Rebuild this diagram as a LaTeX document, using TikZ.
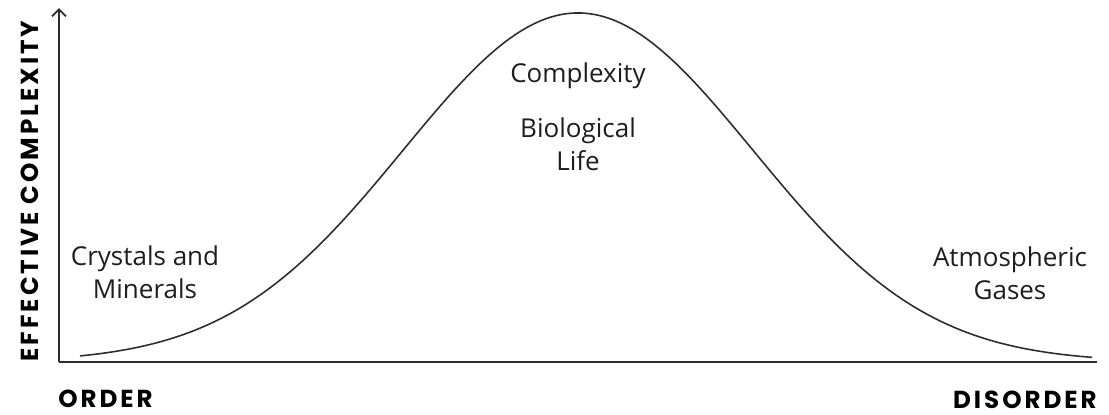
\documentclass[tikz,border=0pt]{standalone}
\usepackage{fontspec}
\setmainfont{Open Sans}
\newfontfamily\axisfont{Poppins}[LetterSpace=12]
\usetikzlibrary{arrows.meta,positioning}
\definecolor{InkGray}{RGB}{30,30,30}
\definecolor{LineGray}{RGB}{45,45,45}
\tikzset{
  axisline/.style={line width=1.1pt,LineGray},
  curveline/.style={line width=0.9pt,LineGray},
  regionlabel/.style={align=center,InkGray,font=\fontsize{14.8}{18.7}\selectfont},
  axislabel/.style={inner sep=0pt,black,font=\axisfont\bfseries\fontsize{14}{16}\selectfont}
}
\begin{document}
\begin{tikzpicture}[x=0.02cm,y=0.02cm,>={Straight Barb[length=4pt,width=8pt]}]
      \useasboundingbox (0,0) rectangle (1109,414);
      \coordinate (origin) at (59,52);
      \coordinate (ytop) at (59,406);
      \coordinate (xend) at (1097,52);
      \draw[axisline,->] (origin)--(ytop);
      \draw[axisline] (origin)--(xend);
      \draw[curveline,smooth,samples=120,domain=80:1092]
        plot (\x,{52+349*exp(-0.5*((\x-578)/175)^2)});
      \node[axislabel,anchor=base west] (order) at (58,7) {ORDER};
      \node[axislabel,anchor=base east] (disorder) at (1097,6) {DISORDER};
      \node[axislabel,rotate=90] (ylabel) at (30,223) {EFFECTIVE COMPLEXITY};
      \node[regionlabel,anchor=base] (complexity) at (578,332) {Complexity};
      \node[regionlabel,anchor=base] (life) at (578,244) {Biological\\Life};
      \node[regionlabel,anchor=base] (crystals) at (145,116) {Crystals and\\Minerals};
      \node[regionlabel,anchor=base] (gases) at (1010,115) {Atmospheric\\Gases};
    \end{tikzpicture}
\end{document}
